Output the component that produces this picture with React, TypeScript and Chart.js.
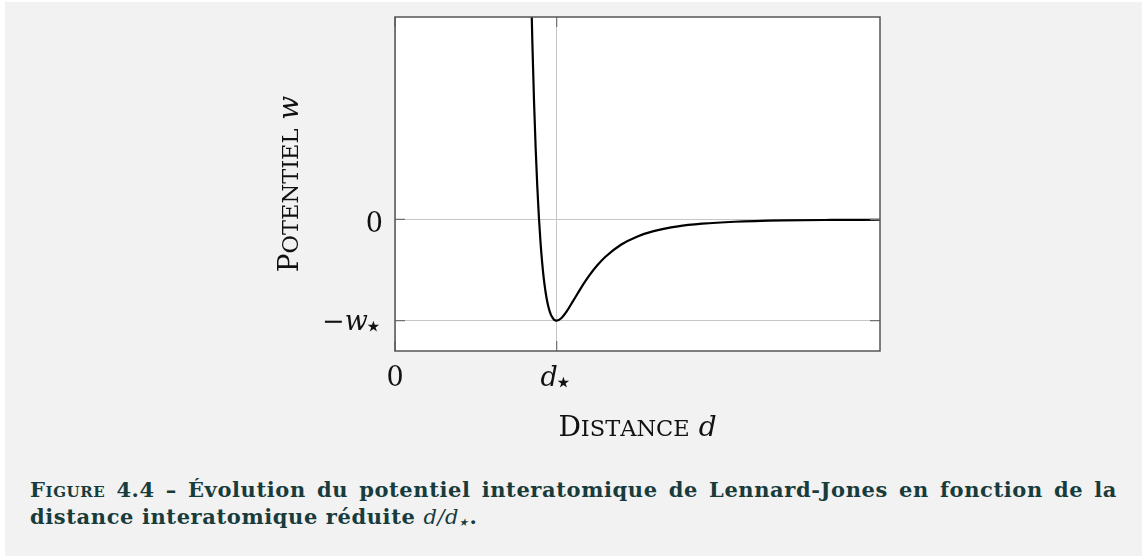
import { useEffect, useRef } from "react";
import { Chart, registerables } from "chart.js";

Chart.register(...registerables);

// Reduced interatomic distance d/d* (x) and reduced potential w/w* (y)
const DISTANCES = [0.84, 0.85, 0.86, 0.87, 0.88, 0.89, 0.9, 0.91, 0.92, 0.93, 0.94, 0.95, 0.96, 0.97, 0.98, 0.99, 1.0, 1.03, 1.06, 1.1, 1.15, 1.2, 1.25, 1.3, 1.4, 1.5, 1.6, 1.75, 1.9, 2.1, 2.4, 2.7, 3.0];
const POTENTIALS = [2.41, 1.727, 1.166, 0.706, 0.33, 0.024, -0.223, -0.421, -0.579, -0.702, -0.798, -0.87, -0.923, -0.96, -0.983, -0.996, -1.0, -0.974, -0.913, -0.81, -0.678, -0.558, -0.456, -0.371, -0.248, -0.168, -0.116, -0.068, -0.042, -0.023, -0.01, -0.005, -0.003];

const X_TICKS = [0, 1];
const X_TICK_LABELS = ["0", "d⋆"];
const Y_TICKS = [-1, 0];
const Y_TICK_LABELS = ["−w⋆", "0"];
const X_TITLE = "Distance";
const X_VAR = "d";
const Y_TITLE = "Potentiel";
const Y_VAR = "w";

const SERIF = '"DejaVu Serif", "Liberation Serif", serif';

type Run = { t: string; font: string; dy: number; dx: number };

function mathRuns(label: string, size: number): Run[] {
  return Array.from(label).map((ch) =>
    ch === "⋆"
      ? { t: ch, font: `${Math.round(size * 1.1)}px ${SERIF}`, dy: size * 0.22, dx: -size * 0.14 }
      : /[a-z]/.test(ch)
      ? { t: ch, font: `italic ${size}px ${SERIF}`, dy: 0, dx: 0 }
      : { t: ch, font: `${size}px ${SERIF}`, dy: 0, dx: 0 }
  );
}

function smallCapsRuns(label: string, big: number, small: number): Run[] {
  const runs: Run[] = [];
  Array.from(label).forEach((ch, i) => {
    if (i === 0 || ch === " ") runs.push({ t: ch.toUpperCase(), font: `${big}px ${SERIF}`, dy: 0, dx: 0 });
    else runs.push({ t: ch.toUpperCase(), font: `${small}px ${SERIF}`, dy: 0, dx: 0 });
  });
  return runs;
}

function drawRuns(ctx: CanvasRenderingContext2D, runs: Run[], x: number, y: number, align: "left" | "center" | "right") {
  ctx.textAlign = "left";
  ctx.textBaseline = "alphabetic";
  const widths = runs.map((r) => {
    ctx.font = r.font;
    return ctx.measureText(r.t).width + r.dx;
  });
  const total = widths.reduce((a, b) => a + b, 0);
  let cx = align === "left" ? x : align === "center" ? x - total / 2 : x - total;
  runs.forEach((r, i) => {
    ctx.font = r.font;
    ctx.fillText(r.t, cx + r.dx, y + r.dy);
    cx += widths[i];
  });
}

const framePlugin = {
  id: "frameAndLabels",
  beforeDraw(chart: any) {
    const { ctx, chartArea: a } = chart;
    ctx.save();
    ctx.fillStyle = "#ffffff";
    ctx.fillRect(a.left, a.top, a.right - a.left, a.bottom - a.top);
    ctx.restore();
  },
  afterDraw(chart: any) {
    const { ctx, chartArea: a } = chart;
    const xs = chart.scales.x;
    const ys = chart.scales.y;
    ctx.save();
    // inner tick marks
    ctx.strokeStyle = "#707070";
    ctx.lineWidth = 1.2;
    const tl = 10;
    Y_TICKS.forEach((v) => {
      const py = ys.getPixelForValue(v);
      ctx.beginPath();
      ctx.moveTo(a.left, py);
      ctx.lineTo(a.left + tl, py);
      ctx.moveTo(a.right - tl, py);
      ctx.lineTo(a.right, py);
      ctx.stroke();
    });
    X_TICKS.forEach((v) => {
      const px = xs.getPixelForValue(v);
      ctx.beginPath();
      ctx.moveTo(px, a.bottom);
      ctx.lineTo(px, a.bottom - tl);
      ctx.moveTo(px, a.top);
      ctx.lineTo(px, a.top + tl);
      ctx.stroke();
    });
    // frame
    ctx.strokeStyle = "#555555";
    ctx.lineWidth = 1.5;
    ctx.strokeRect(a.left, a.top, a.right - a.left, a.bottom - a.top);

    // tick labels
    ctx.fillStyle = "#111111";
    const size = 27;
    Y_TICKS.forEach((v, i) => {
      const py = ys.getPixelForValue(v);
      const lab = Y_TICK_LABELS[i];
      const dy = lab === "0" ? 12.5 : 9;
      drawRuns(ctx, mathRuns(lab, size), a.left - 12, py + dy, "right");
    });
    X_TICKS.forEach((v, i) => {
      const px = xs.getPixelForValue(v);
      drawRuns(ctx, mathRuns(X_TICK_LABELS[i], size), px, a.bottom + 35, "center");
    });

    // axis titles
    const xRuns = [...smallCapsRuns(X_TITLE + " ", 28, 22.5), ...mathRuns(X_VAR, 28)];
    drawRuns(ctx, xRuns, (a.left + a.right) / 2, a.bottom + 85, "center");

    const yRuns = [...smallCapsRuns(Y_TITLE + " ", 28, 22.5), ...mathRuns(Y_VAR, 28)];
    ctx.translate(a.left - 97, (a.top + a.bottom) / 2);
    ctx.rotate(-Math.PI / 2);
    drawRuns(ctx, yRuns, 0, 0, "center");
    ctx.restore();
  },
};

export default function App() {
  const ref = useRef<HTMLCanvasElement | null>(null);

  useEffect(() => {
    if (!ref.current) return;
    const chart = new Chart(ref.current, {
      type: "line",
      data: {
        datasets: [
          {
            data: DISTANCES.map((d, i) => ({ x: d, y: POTENTIALS[i] })),
            borderColor: "#000000",
            borderWidth: 2.2,
            pointRadius: 0,
            cubicInterpolationMode: "monotone",
            fill: false,
          },
        ],
      },
      options: {
        animation: false,
        responsive: false,
        layout: { padding: { left: 390, right: 262, top: 15, bottom: 111 } },
        plugins: { legend: { display: false }, tooltip: { enabled: false } },
        scales: {
          x: {
            type: "linear",
            min: 0,
            max: 3,
            afterBuildTicks: (s: any) => {
              s.ticks = X_TICKS.map((v) => ({ value: v }));
            },
            afterFit: (s: any) => {
              s.height = 0;
            },
            ticks: { display: false },
            grid: { color: "#c6c6c6", lineWidth: 1, drawTicks: false },
            border: { display: false },
          },
          y: {
            type: "linear",
            min: -1.3,
            max: 2,
            afterBuildTicks: (s: any) => {
              s.ticks = Y_TICKS.map((v) => ({ value: v }));
            },
            afterFit: (s: any) => {
              s.width = 0;
            },
            ticks: { display: false },
            grid: { color: "#c6c6c6", lineWidth: 1, drawTicks: false },
            border: { display: false },
          },
        },
      } as any,
      plugins: [framePlugin],
    });
    return () => chart.destroy();
  }, []);

  return (
    <div
      style={{
        position: "absolute",
        left: 5,
        top: 2,
        width: 1137,
        height: 554,
        background: "#f2f2f2",
        overflow: "hidden",
      }}
    >
      <canvas ref={ref} width={1137} height={460} style={{ display: "block" }} />
      <div
        style={{
          position: "absolute",
          left: 25,
          top: 474,
          width: 1087,
          color: "#183c3c",
          font: `bold 21px/27px ${SERIF}`,
          letterSpacing: "0.6px",
        }}
      >
        <div style={{ textAlign: "justify", textAlignLast: "justify", whiteSpace: "nowrap" }}>
          <span style={{ fontVariant: "small-caps" }}>Figure</span> 4.4 – Évolution du potentiel interatomique de
          Lennard-Jones en fonction de la
        </div>
        <div style={{ whiteSpace: "nowrap" }}>
          distance interatomique réduite{" "}
          <span style={{ fontStyle: "italic", fontWeight: "normal" }}>
            d/d
            <sub style={{ fontSize: "1em", verticalAlign: "-0.25em", marginLeft: "-0.15em" }}>⋆</sub>
          </span>
          .
        </div>
      </div>
    </div>
  );
}
